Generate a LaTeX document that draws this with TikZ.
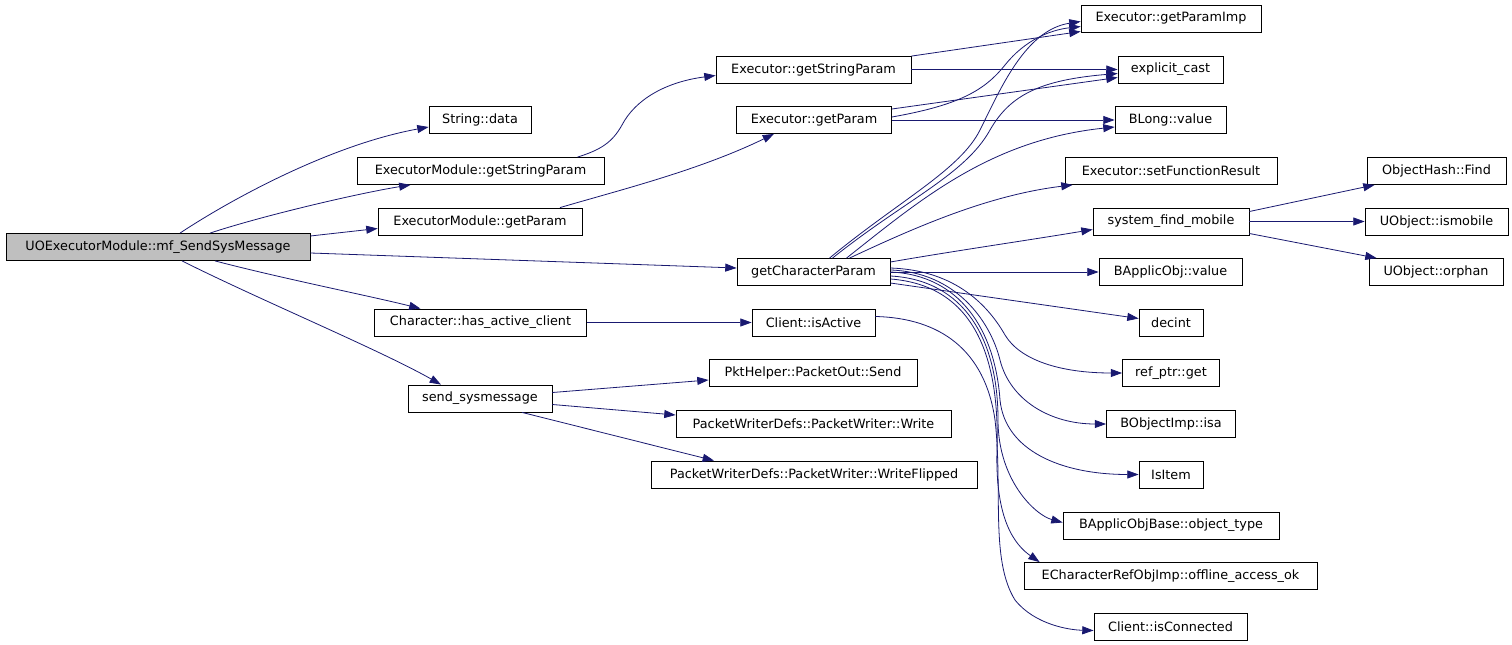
\documentclass[tikz,border=0pt]{standalone}
\usepackage{fontspec}
\setmainfont{DejaVu Sans}
\usepackage{xcolor}
\usepackage{tikz}
\usetikzlibrary{arrows.meta}
\usetikzlibrary{calc}

\definecolor{edgeblue}{RGB}{25,25,112}
\definecolor{rootgray}{RGB}{191,191,191}

\tikzset{
  fn/.style={draw, line width=0.6pt, inner sep=0pt, minimum height=27*0.75pt,
             font=\fontsize{9.6}{11}\selectfont},
  w/.style={minimum width=#1*0.75pt},
  root/.style={fn, fill=rootgray},
  call/.style={draw=edgeblue, line width=0.6pt,
               -{Triangle[length=8.5pt,width=6pt,fill=edgeblue]}}
}

\begin{document}
\begin{tikzpicture}[x=0.75pt, y=-0.75pt]
    \useasboundingbox (0, 0) rectangle (1512, 645);

    % caller
    \node[root, w=304] (mf) at (158, 247) {UOExecutorModule::mf\_SendSysMessage};

    % first level
    \node[fn, w=102] (sdata)   at (480, 120)   {String::data};
    \node[fn, w=247] (emgsp)   at (480.5, 171) {ExecutorModule::getStringParam};
    \node[fn, w=204] (emgp)    at (480, 221.5) {ExecutorModule::getParam};
    \node[fn, w=212] (hac)     at (480.5, 322.5) {Character::has\_active\_client};
    \node[fn, w=144] (sendsys) at (480, 398.5) {send\_sysmessage};

    % second level
    \node[fn, w=195] (egsp)     at (813.5, 69.5)  {Executor::getStringParam};
    \node[fn, w=155] (egp)      at (814, 120)     {Executor::getParam};
    \node[fn, w=153] (gcp)      at (813.5, 272)   {getCharacterParam};
    \node[fn, w=123] (isactive) at (813.5, 322.5) {Client::isActive};
    \node[fn, w=208] (pktsend)  at (813, 373)     {PktHelper::PacketOut::Send};
    \node[fn, w=275] (pwwrite)  at (813.5, 424)   {PacketWriterDefs::PacketWriter::Write};
    \node[fn, w=326] (pwflip)   at (814, 474.5)   {PacketWriterDefs::PacketWriter::WriteFlipped};

    % third level
    \node[fn, w=180] (gpimp)   at (1171, 18.5)   {Executor::getParamImp};
    \node[fn, w=105] (ecast)   at (1170.5, 69.5) {explicit\_cast};
    \node[fn, w=111] (blong)   at (1170.5, 120)  {BLong::value};
    \node[fn, w=212] (setfr)   at (1171, 171)    {Executor::setFunctionResult};
    \node[fn, w=156] (sfm)     at (1171, 221.5)  {system\_find\_mobile};
    \node[fn, w=143] (baval)   at (1170.5, 272)  {BApplicObj::value};
    \node[fn, w=64]  (decint)  at (1171, 322.5)  {decint};
    \node[fn, w=97]  (refget)  at (1171, 373)    {ref\_ptr::get};
    \node[fn, w=129] (isa)     at (1171, 424)    {BObjectImp::isa};
    \node[fn, w=64]  (isitem)  at (1171, 474.5)  {IsItem};
    \node[fn, w=216] (objtype) at (1171, 525.5)  {BApplicObjBase::object\_type};
    \node[fn, w=293] (offline) at (1170.5, 576)  {ECharacterRefObjImp::offline\_access\_ok};
    \node[fn, w=153] (isconn)  at (1170.5, 626.5) {Client::isConnected};

    % fourth level
    \node[fn, w=139] (ohfind)   at (1436.5, 171)  {ObjectHash::Find};
    \node[fn, w=143] (ismobile) at (1436.5, 221.5) {UObject::ismobile};
    \node[fn, w=134] (orphan)   at (1436, 272)    {UObject::orphan};

    % calls from mf_SendSysMessage
    \draw[call] ($(mf.north)+(22,0)$) .. controls (230, 200) and (330, 145) .. ($(sdata.west)+(0,7)$);
    \draw[call] ($(mf.north)+(52,0)$) .. controls (265, 215) and (360, 193) .. ($(emgsp.south)+(-70,0)$);
    \draw[call] ($(mf.east)+(0,-11)$) -- ($(emgp.west)+(0,7)$);
    \draw[call] ($(mf.east)+(0,6)$) -- ($(gcp.west)+(0,-4)$);
    \draw[call] ($(mf.south)+(57,0)$) .. controls (280, 278) and (370, 296) .. ($(hac.north)+(-60,0)$);
    \draw[call] ($(mf.south)+(24,0)$) .. controls (260, 300) and (380, 350) .. ($(sendsys.north)+(-39,0)$);

    % ExecutorModule
    \draw[call] ($(emgsp.north)+(97,0)$) .. controls (600, 150) and (612, 143) .. (622, 125)
        .. controls (635, 100) and (665, 82) .. ($(egsp.west)+(0,6)$);
    \draw[call] ($(emgp.north)+(80,0)$) .. controls (620, 190) and (700, 170) .. ($(egp.south)+(-40,0)$);

    % Executor
    \draw[call] ($(egsp.north east)+(0,0.5)$) -- ($(gpimp.west)+(0,13)$);
    \draw[call] (egsp.east) -- (ecast.west);
    \draw[call] ($(egp.east)+(0,-11)$) -- ($(ecast.west)+(0,8)$);
    \draw[call] ($(egp.east)+(0,-3)$) .. controls (960, 105) and (985, 90) .. (1005, 65)
        .. controls (1025, 40) and (1050, 30) .. ($(gpimp.west)+(0,8)$);
    \draw[call] (egp.east) -- (blong.west);

    % getCharacterParam
    \draw[call] ($(gcp.north)+(16,0)$) .. controls (900, 200) and (960, 170) .. (980, 130)
        .. controls (1000, 90) and (1025, 30) .. ($(gpimp.west)+(0,3)$);
    \draw[call] ($(gcp.north)+(19,0)$) .. controls (905, 200) and (965, 175) .. (990, 130)
        .. controls (1010, 95) and (1040, 80) .. ($(ecast.west)+(0,4)$);
    \draw[call] ($(gcp.north)+(33,0)$) .. controls (920, 200) and (990, 140) .. ($(blong.west)+(0,7)$);
    \draw[call] ($(gcp.north)+(36,0)$) .. controls (920, 225) and (990, 195) .. ($(setfr.south west)+(8,0)$);
    \draw[call] ($(gcp.east)+(0,-10)$) .. controls (960, 250) and (1030, 240) .. ($(sfm.west)+(0,8)$);
    \draw[call] (gcp.east) -- (baval.west);
    \draw[call] ($(gcp.east)+(0,11)$) -- ($(decint.west)+(0,-4)$);
    \draw[call] ($(gcp.east)+(0,-4)$) .. controls (950, 270) and (985, 300) .. (1005, 335)
        .. controls (1020, 360) and (1060, 373) .. (refget.west);
    \draw[call] ($(gcp.east)+(0,-2)$) .. controls (955, 272) and (990, 320) .. (1000, 360)
        .. controls (1010, 400) and (1050, 424) .. (isa.west);
    \draw[call] ($(gcp.east)+(0,0)$) .. controls (960, 275) and (995, 330) .. (1000, 400)
        .. controls (1005, 450) and (1060, 474.5) .. (isitem.west);
    \draw[call] ($(gcp.east)+(0,4)$) .. controls (965, 280) and (998, 340) .. (998, 420)
        .. controls (998, 480) and (1035, 515) .. ($(objtype.west)+(0,-3)$);
    \draw[call] ($(gcp.east)+(0,7)$) .. controls (970, 285) and (1000, 350) .. (997, 450)
        .. controls (995, 520) and (1015, 545) .. ($(offline.north west)+(16,0)$);

    % Character / Client
    \draw[call] (hac.east) -- (isactive.west);
    \draw[call] ($(isactive.east)+(0,-6)$) .. controls (940, 318) and (985, 350) .. (995, 420)
        .. controls (1003, 490) and (990, 560) .. (1015, 600)
        .. controls (1035, 625) and (1070, 630) .. ($(isconn.west)+(0,4)$);

    % send_sysmessage
    \draw[call] ($(sendsys.east)+(0,-6)$) -- ($(pktsend.west)+(0,7)$);
    \draw[call] ($(sendsys.east)+(0,6)$) -- ($(pwwrite.west)+(0,-9)$);
    \draw[call] ($(sendsys.south)+(42,0)$) -- ($(pwflip.north)+(-100,0)$);

    % system_find_mobile
    \draw[call] ($(sfm.east)+(0,-10)$) -- ($(ohfind.south west)+(8,0)$);
    \draw[call] (sfm.east) -- (ismobile.west);
    \draw[call] ($(sfm.east)+(0,12)$) -- ($(orphan.north west)+(8,0)$);
\end{tikzpicture}
\end{document}
